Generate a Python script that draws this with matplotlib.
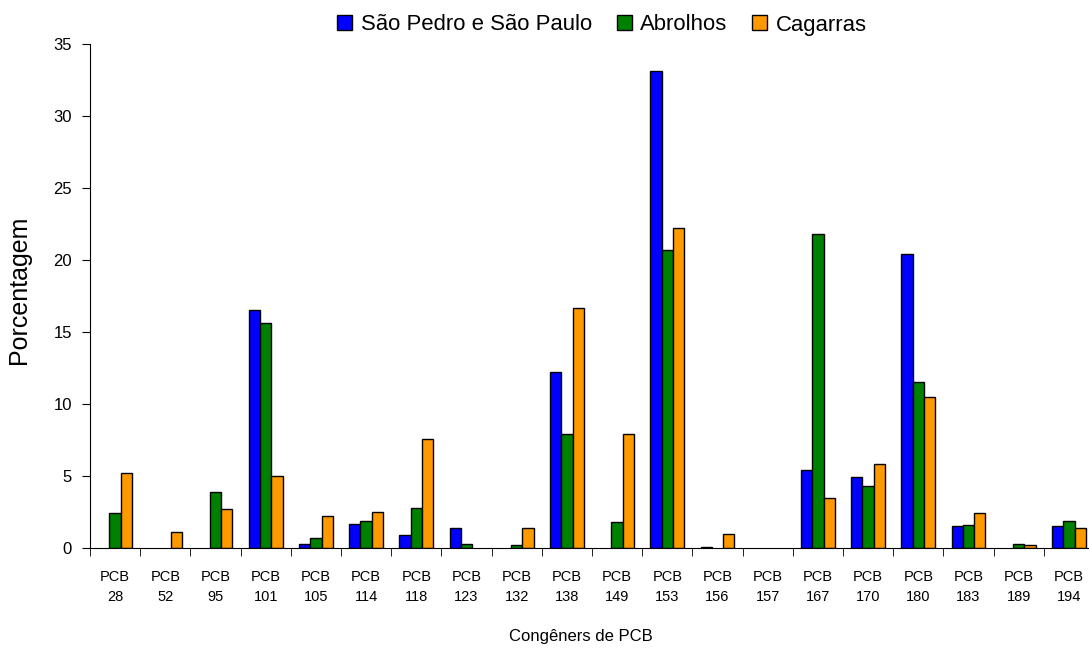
import matplotlib.pyplot as plt
import numpy as np
from matplotlib.patches import Patch

plt.rcParams['font.family'] = ['Liberation Sans', 'DejaVu Sans']

# congeners and percentages
congeners = ['28', '52', '95', '101', '105', '114', '118', '123', '132', '138',
             '149', '153', '156', '157', '167', '170', '180', '183', '189', '194']
sao_pedro = [0, 0, 0, 16.5, 0.3, 1.7, 0.9, 1.4, 0, 12.2,
             0, 33.1, 0.1, 0, 5.4, 4.9, 20.4, 1.5, 0, 1.5]
abrolhos = [2.4, 0, 3.9, 15.6, 0.7, 1.9, 2.8, 0.3, 0.2, 7.9,
            1.8, 20.7, 0, 0, 21.8, 4.3, 11.5, 1.6, 0.3, 1.9]
cagarras = [5.2, 1.1, 2.7, 5.0, 2.2, 2.5, 7.6, 0, 1.4, 16.7,
            7.9, 22.2, 1.0, 0, 3.5, 5.8, 10.5, 2.4, 0.2, 1.4]
series_names = ['São Pedro e São Paulo', 'Abrolhos', 'Cagarras']
colors = ['#0000FF', '#008000', '#FF9900']

fig = plt.figure(figsize=(10.89, 6.48), dpi=100)
W, H = 1089, 648
left, right, top, bottom = 90, 1094, 44, 548
ax = fig.add_axes([left / W, 1 - bottom / H, (right - left) / W, (bottom - top) / H])

x = np.arange(len(congeners))
w = 0.225
for i, (vals, c) in enumerate(zip([sao_pedro, abrolhos, cagarras], colors)):
    lw = [1.0 if v > 0 else 0 for v in vals]  # empty bars are not drawn
    ax.bar(x + (i - 1) * w, vals, width=w, color=c, edgecolor='black', linewidth=lw)

ax.set_xlim(-0.5, len(congeners) - 0.5)
ax.set_ylim(0, 35)
ax.set_yticks(np.arange(0, 36, 5))
ax.tick_params(axis='y', labelsize=12, length=6, direction='out', pad=7)

ax.set_xticks(x)
ax.set_xticklabels(['PCB\n' + c for c in congeners], fontsize=10.5, linespacing=1.55)
ax.set_xticks(np.arange(-0.5, len(congeners), 1), minor=True)
ax.tick_params(axis='x', which='major', length=0, pad=16)
ax.tick_params(axis='x', which='minor', length=6, direction='out')

ax.spines['top'].set_visible(False)
ax.spines['right'].set_visible(False)

fig.text(19 / W, 1 - 290 / H, 'Porcentagem', rotation=90, ha='center', va='center', fontsize=18)
fig.text(581 / W, 1 - 637 / H, 'Congêners de PCB', ha='center', va='center', fontsize=12)

handles = [Patch(facecolor=c, edgecolor='black', linewidth=1.0) for c in colors]
ax.legend(handles, series_names, loc='center', bbox_to_anchor=(602 / W, 1 - 25 / H),
          bbox_transform=fig.transFigure, ncol=3, frameon=False, fontsize=15.9,
          handlelength=0.68, handleheight=0.68, handletextpad=0.4, columnspacing=1.1)

fig.savefig('out.png', dpi=100)
